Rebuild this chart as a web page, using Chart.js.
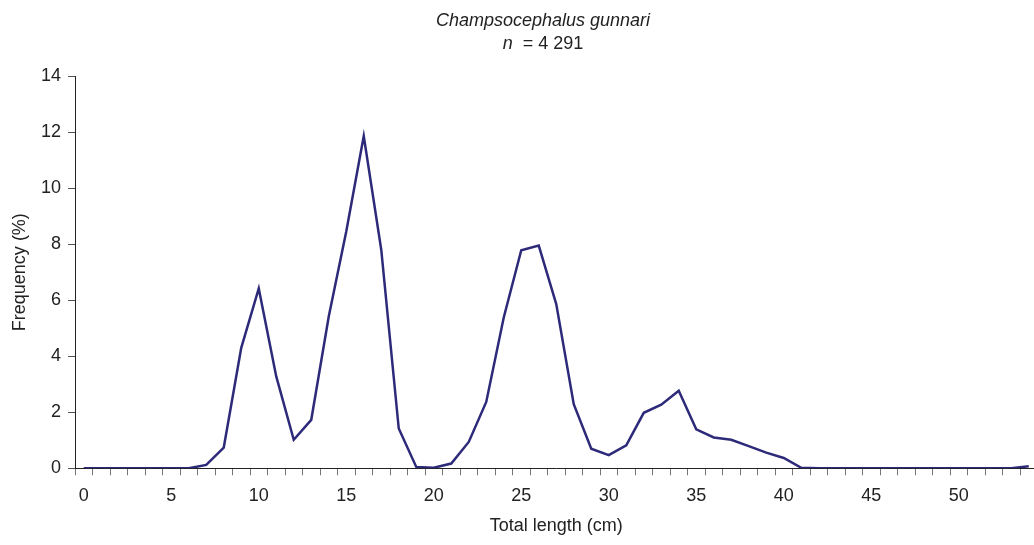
<!DOCTYPE html>
<html>
<head>
<meta charset="utf-8">
<script src="https://cdn.jsdelivr.net/npm/chart.js@4.4.0/dist/chart.umd.min.js"></script>
<style>
  html, body { margin: 0; padding: 0; background: #fff; overflow: hidden; }
  #wrap { position: relative; width: 1040px; height: 545px; }
</style>
</head>
<body>
<div id="wrap"><canvas id="c"></canvas></div>
<script>
// ---- Data ----
const titleSpecies = 'Champsocephalus gunnari';
const titleCount = '4 291';
const xAxisTitle = 'Total length (cm)';
const yAxisTitle = 'Frequency (%)';

const lengthCategories = [0,1,2,3,4,5,6,7,8,9,10,11,12,13,14,15,16,17,18,19,20,21,22,23,24,25,26,27,28,29,30,31,32,33,34,35,36,37,38,39,40,41,42,43,44,45,46,47,48,49,50,51,52,53,54];
const frequencyValues = [0,0,0,0,0,0,0,0.12,0.74,4.3,6.42,3.28,1.02,1.73,5.42,8.45,11.86,7.8,1.42,0.05,0.02,0.17,0.94,2.37,5.38,7.78,7.95,5.86,2.29,0.7,0.47,0.82,1.98,2.27,2.77,1.39,1.1,1.02,0.79,0.56,0.37,0.02,0,0,0,0,0,0,0,0,0,0,0,0,0.07];
const xTickLabels = ['0','5','10','15','20','25','30','35','40','45','50'];
const yTickValues = [0,2,4,6,8,10,12,14];

const FONT = '"Liberation Sans", Arial, sans-serif';
const TEXT = '#222';

const titlePlugin = {
  id: 'titlePlugin',
  afterDraw(chart) {
    const ctx = chart.ctx;
    ctx.save();
    ctx.fillStyle = TEXT;
    ctx.textBaseline = 'middle';
    ctx.textAlign = 'center';
    ctx.font = 'italic 18px ' + FONT;
    ctx.fillText(titleSpecies, 543, 21);
    // second line: italic n + normal rest
    ctx.textAlign = 'left';
    ctx.font = 'italic 18px ' + FONT;
    const wN = ctx.measureText('n').width;
    ctx.font = '18px ' + FONT;
    const rest = '  = ' + titleCount;
    const wR = ctx.measureText(rest).width;
    const x0 = 543 - (wN + wR) / 2;
    ctx.font = 'italic 18px ' + FONT;
    ctx.fillText('n', x0, 44);
    ctx.font = '18px ' + FONT;
    ctx.fillText(rest, x0 + wN, 44);
    ctx.restore();
  }
};

new Chart(document.getElementById('c'), {
  type: 'line',
  data: {
    labels: lengthCategories.map(String),
    datasets: [{
      data: frequencyValues,
      borderColor: '#2e2a7a',
      borderWidth: 2.5,
      pointRadius: 0,
      tension: 0,
      fill: false
    }]
  },
  options: {
    responsive: true,
    maintainAspectRatio: false,
    animation: false,
    layout: { padding: { top: 76, right: 2.5, bottom: 0, left: 0 } },
    plugins: { legend: { display: false }, tooltip: { enabled: false }, title: { display: false } },
    scales: {
      x: {
        type: 'category',
        offset: true,
        grid: { offset: true, drawOnChartArea: false, drawTicks: true, tickLength: 7, tickColor: '#777', tickWidth: 1 },
        border: { display: true, color: '#222', width: 1 },
        ticks: {
          autoSkip: false, maxRotation: 0, padding: 10,
          color: TEXT, font: { family: FONT, size: 18 },
          callback: function(v, i) { const l = this.getLabelForValue(v); return xTickLabels.includes(l) ? l : ''; }
        },
        title: { display: true, text: xAxisTitle, color: TEXT, font: { family: FONT, size: 18 }, padding: { top: 0, bottom: 8 } },
        afterFit(s) { s.height = 76.7; }
      },
      y: {
        min: 0, max: 14,
        grid: { drawOnChartArea: false, drawTicks: true, tickLength: 7, tickColor: '#555', tickWidth: 1 },
        border: { display: true, color: '#222', width: 1 },
        afterBuildTicks(s) { s.ticks = yTickValues.map(v => ({ value: v })); },
        ticks: { padding: 7, color: TEXT, font: { family: FONT, size: 18 } },
        title: { display: true, text: yAxisTitle, color: TEXT, font: { family: FONT, size: 18 }, padding: { top: 9, bottom: 0 } },
        afterFit(s) { s.width = 75; }
      }
    }
  },
  plugins: [titlePlugin]
});
</script>
</body>
</html>
